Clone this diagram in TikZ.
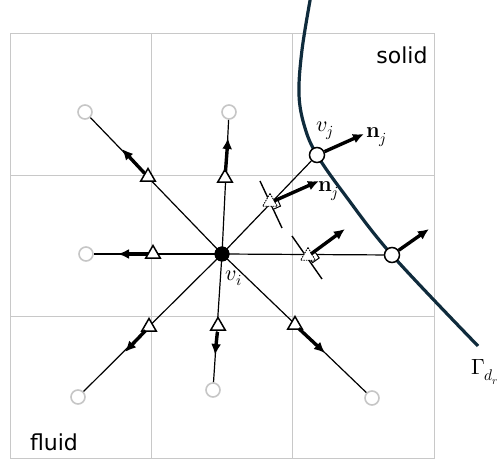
\documentclass[tikz,border=0pt]{standalone}
\usepackage{fontspec}
\usepackage{unicode-math}
\setmathfont{Latin Modern Math}
\setsansfont{DejaVu Sans}
\usetikzlibrary{arrows.meta,shapes.geometric,calc}
\definecolor{gridc}{HTML}{C8C8C8}
\definecolor{ifc}{HTML}{0F2B3C}
\begin{document}
\begin{tikzpicture}[x=1pt,y=-1pt,
  gridline/.style={draw=gridc, line width=1pt},
  ray/.style={line width=1.2pt},
  far/.style={circle, draw=gray!45, line width=1.6pt, fill=white, minimum size=14pt, inner sep=0pt},
  open/.style={circle, draw, line width=1.5pt, fill=white, minimum size=15pt, inner sep=0pt},
  dot/.style={circle, fill=black, minimum size=15pt, inner sep=0pt},
  tri/.style={regular polygon, regular polygon sides=3, draw, line width=1.5pt, fill=white, minimum size=17pt, inner sep=0pt},
  dtri/.style={tri, densely dotted, line width=0.9pt},
  flux/.style={line width=3.4pt, -{Latex[length=11pt,width=10pt]}},
  tang/.style={line width=1.4pt},
  lbl/.style={font=\fontsize{22}{24}\selectfont\sffamily},
  mlbl/.style={font=\fontsize{22}{24}\selectfont, inner sep=0pt}
]
\useasboundingbox (0,0) rectangle (499,462);
% grid
\draw[gridline] (10,34) rectangle (434,459);
\draw[gridline] (151,34) -- (151,459);
\draw[gridline] (292,34) -- (292,459);
\draw[gridline] (10,176) -- (434,176);
\draw[gridline] (10,317) -- (434,317);
% interface
\draw[ifc, line width=3.2pt] plot[smooth, tension=0.6] coordinates {(311,-5) (302,50) (299,95) (305,128) (317,155) (345,195) (392,255) (478,346)};
% nodes
\node[dot] (vi) at (222,254) {};
\node[far] (c1) at (85,112) {};
\node[far] (c2) at (229,112) {};
\node[far] (c3) at (86,254) {};
\node[far] (c4) at (78,397) {};
\node[far] (c5) at (213,390) {};
\node[far] (c6) at (372,398) {};
\node[open] (vj) at (317,155) {};
\node[open] (vk) at (392,255) {};
% rays
\foreach \c in {c1,c2,c3,c4,c5,c6,vj,vk} \draw[ray] (vi.center) -- (\c);
\node[dot] at (vi) {};
% tangent lines and right angle marks
\coordinate (t1) at (270,202);
\coordinate (t2) at (308,256);
\coordinate (a1) at (260,181);
\coordinate (b1) at (282,228);
\coordinate (a2) at (292,236);
\coordinate (b2) at (322,279);
\draw[tang] (a1) -- (b1);
\draw[tang] (a2) -- (b2);
\draw[line width=1pt, fill=white] (t1) -- ++(3.2,7.3) -- ++(7.3,-3.2) -- ++(-3.2,-7.3) -- cycle;
\draw[line width=1pt, fill=white] (t2) -- ++(4.6,6.6) -- ++(6.6,-4.6) -- ++(-4.6,-6.6) -- cycle;
% triangles
\node[tri] (r1) at (148,177) {};
\node[tri] (r2) at (225,178) {};
\node[tri] (r3) at (153,254) {};
\node[tri] (r4) at (149,327) {};
\node[tri] (r5) at (218,326) {};
\node[tri] (r6) at (295,325) {};
\node[dtri] (d1) at (t1) {};
\node[dtri] (d2) at (t2) {};
% flux arrows
\coordinate (e1) at (122,149);
\coordinate (e2) at (228,138);
\coordinate (e3) at (118,254);
\coordinate (e4) at (125,352);
\coordinate (e5) at (215,355);
\coordinate (e6) at (325,353);
\draw[flux] ($(r1.center)!5pt!(e1)$) -- (e1);
\draw[flux] ($(r2.center)!6pt!(e2)$) -- (e2);
\draw[flux] ($(r3.center)!5pt!(e3)$) -- (e3);
\draw[flux] ($(r4.center)!5pt!(e4)$) -- (e4);
\draw[flux] ($(r5.center)!6pt!(e5)$) -- (e5);
\draw[flux] ($(r6.center)!5pt!(e6)$) -- (e6);
% normals
\coordinate (n0) at (364,134);
\coordinate (n1) at (319,181);
\coordinate (n2) at (345,229);
\coordinate (n3) at (429,229);
\draw[flux] (vj) -- (n0);
\draw[flux] ($(t1)+(4,-1)$) -- (n1);
\draw[flux] ($(t2)+(3,-2)$) -- (n2);
\draw[flux] (vk) -- (n3);
% labels
\node[lbl] (solid) at (402,55) {solid};
\node[lbl] (fluid) at (54,442) {fluid};
\node[mlbl] (lvi) at (234,278) {$v_i$};
\node[mlbl] (lvj) at (325,131) {$v_j$};
\node[mlbl, anchor=west] (lnj0) at (366,137) {$\mathbf{n}_j$};
\node[mlbl, anchor=west] (lnj1) at (318,191) {$\mathbf{n}_j$};
\node[mlbl, anchor=west] (lg) at (471,372) {$\Gamma_{d_r}$};
\end{tikzpicture}
\end{document}
